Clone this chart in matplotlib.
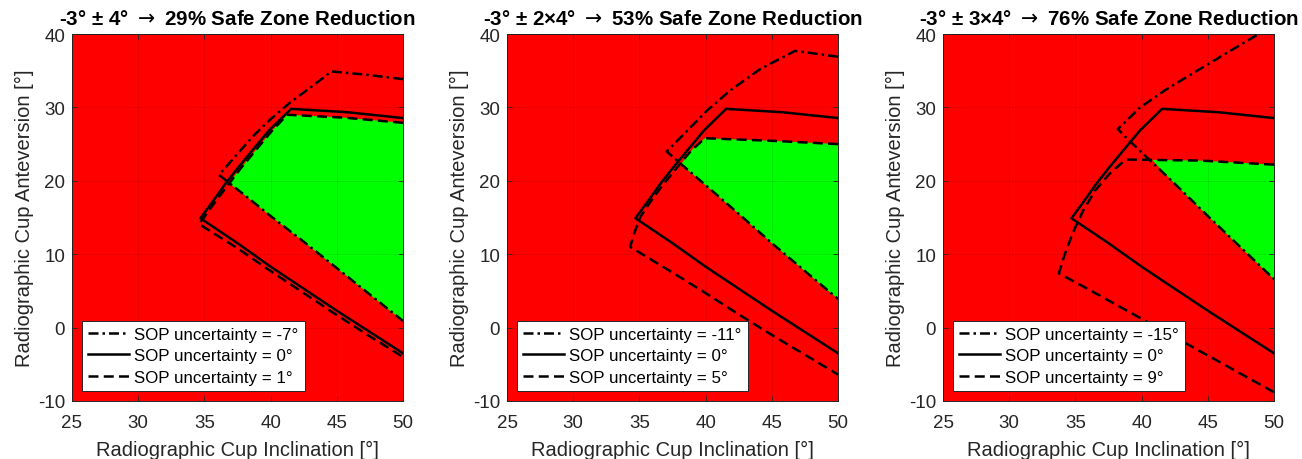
import matplotlib
matplotlib.use("Agg")
import matplotlib.pyplot as plt

plt.rcParams['font.family'] = ['Liberation Sans', 'DejaVu Sans']
plt.rcParams['axes.unicode_minus'] = False
plt.rcParams['mathtext.fontset'] = 'dejavusans'

# ---------------- data ----------------
TITLES = ["-3° ± 4° → 29% Safe Zone Reduction",
          "-3° ± 2×4° → 53% Safe Zone Reduction",
          "-3° ± 3×4° → 76% Safe Zone Reduction"]
X_TICKS = [25, 30, 35, 40, 45, 50]
Y_TICKS = [-10, 0, 10, 20, 30, 40]
XLABEL = "Radiographic Cup Inclination [°]"
YLABEL = "Radiographic Cup Anteversion [°]"

LOW_SOP = [-7, -11, -15]
MID_SOP = [0, 0, 0]
HIGH_SOP = [1, 5, 9]

# SOP uncertainty = 0 (same in all panels)
SOLID_X = [50, 45.75, 41.55, 39.9, 38.6, 37.5, 36.5, 35.6, 34.7,
           37.5, 40, 42.5, 45, 47.5, 50]
SOLID_Y = [28.55, 29.35, 29.8, 26.9, 24.1, 21.7, 19.4, 17.1, 14.9,
           11.5, 8.3, 5.3, 2.3, -0.6, -3.5]

# panel 1
P1_DD_X = [50, 47.25, 44.6, 43.0, 41.5, 40.0, 38.8, 37.7, 36.1,
           38, 40, 42.5, 45, 47.5, 50]
P1_DD_Y = [33.85, 34.45, 34.9, 32.7, 30.7, 28.4, 26.3, 24.1, 20.8,
           18.1, 15.2, 11.7, 8.1, 4.5, 0.9]
P1_DA_X = [50, 45.6, 41.25, 40.0, 38.8, 37.7, 36.6, 35.6, 34.6,
           37.5, 40, 42.5, 45, 47.5, 50]
P1_DA_Y = [27.9, 28.6, 29.0, 26.6, 24.0, 21.6, 19.0, 16.6, 14.1,
           10.8, 7.7, 4.7, 1.7, -1.2, -4.0]
P1_GREEN_X = [36.85, 37.7, 38.8, 40.0, 41.25, 45.6, 50, 50, 47.5, 45, 42.5, 40, 38]
P1_GREEN_Y = [19.7, 21.6, 24.0, 26.6, 29.0, 28.6, 27.9, 0.9, 4.5, 8.1, 11.7, 15.2, 18.1]

# panel 2
P2_DD_X = [50, 48.4, 46.75, 44.1, 41.85, 40.1, 38.6, 37.06,
           38.2, 40, 42.5, 45, 47.5, 50]
P2_DD_Y = [36.9, 37.3, 37.7, 35.2, 32.3, 29.55, 26.8, 24.0,
           22.2, 19.4, 15.5, 11.5, 7.7, 3.9]
P2_DA_X = [50, 45, 39.95, 38.9, 38.07, 37.3, 36.5, 35.7, 35.05, 34.6, 34.3,
           37.5, 40, 42.5, 45, 47.5, 50]
P2_DA_Y = [25.0, 25.45, 25.8, 24.1, 22.3, 20.6, 18.8, 16.8, 15.0, 12.8, 11.0,
           7.5, 4.7, 1.8, -1.0, -3.7, -6.4]
P2_GREEN_X = [38.15, 38.9, 39.95, 45, 50, 50, 47.5, 45, 42.5, 40]
P2_GREEN_Y = [22.25, 24.1, 25.8, 25.45, 25.0, 3.9, 7.7, 11.5, 15.5, 19.4]

# panel 3
P3_DD_X = [50, 48.84, 46.7, 44.2, 41.9, 39.9, 38.2,
           39.05, 40.8, 42.5, 45, 47.5, 50]
P3_DD_Y = [41.3, 40.0, 37.7, 35.0, 32.5, 30.0, 27.05,
           25.5, 22.5, 19.6, 15.2, 10.9, 6.6]
P3_DA_X = [50, 44.5, 38.8, 37.6, 36.5, 35.6, 34.8, 34.2, 33.75,
           36, 38.5, 41, 44, 47, 50]
P3_DA_Y = [22.2, 22.75, 22.9, 21.0, 18.7, 16.0, 12.9, 10.0, 7.4,
           5.2, 2.7, 0.2, -2.8, -5.8, -8.8]
P3_GREEN_X = [40.8, 44.5, 50, 50, 47.5, 45, 42.5]
P3_GREEN_Y = [22.85, 22.75, 22.2, 6.6, 10.9, 15.2, 19.6]

PANELS = [
    (P1_DD_X, P1_DD_Y, P1_DA_X, P1_DA_Y, P1_GREEN_X, P1_GREEN_Y),
    (P2_DD_X, P2_DD_Y, P2_DA_X, P2_DA_Y, P2_GREEN_X, P2_GREEN_Y),
    (P3_DD_X, P3_DD_Y, P3_DA_X, P3_DA_Y, P3_GREEN_X, P3_GREEN_Y),
]

# ---------------- drawing ----------------
W, H = 1302, 460
fig = plt.figure(figsize=(W / 100, H / 100), dpi=100)
lefts = [72, 507, 943]
ax_w, ax_bottom, ax_h = 331, 58, 367
LW = 1.8

for i, (ddx, ddy, dax, day, gx, gy) in enumerate(PANELS):
    ax = fig.add_axes([lefts[i] / W, ax_bottom / H, ax_w / W, ax_h / H])
    ax.set_facecolor('#ff0000')
    ax.fill(gx, gy, color='#00ff00', lw=0, zorder=1)
    ax.grid(True, color='k', alpha=0.1, lw=0.6, zorder=2)
    ax.set_axisbelow(False)
    ax.plot(ddx, ddy, color='k', lw=LW, dashes=(4.0, 1.6, 1.0, 1.6),
            zorder=3, label=f"SOP uncertainty = {LOW_SOP[i]}°")
    ax.plot(SOLID_X, SOLID_Y, color='k', lw=LW, zorder=3,
            label=f"SOP uncertainty = {MID_SOP[i]}°")
    ax.plot(dax, day, color='k', lw=LW, dashes=(4.0, 2.1),
            zorder=3, label=f"SOP uncertainty = {HIGH_SOP[i]}°")
    ax.set_xlim(25, 50)
    ax.set_ylim(-10, 40)
    ax.set_xticks(X_TICKS)
    ax.set_yticks(Y_TICKS)
    ax.tick_params(direction='in', top=True, right=True, length=3.5, width=0.6,
                   labelsize=13.5, colors='#262626')
    ax.tick_params(axis='x', pad=9.5)
    ax.tick_params(axis='y', pad=5)
    for sp in ax.spines.values():
        sp.set_color('#262626')
        sp.set_linewidth(0.7)
    ax.set_xlabel(XLABEL, fontsize=14.5, color='#262626', labelpad=6)
    ax.set_ylabel(YLABEL, fontsize=14.5, color='#262626', labelpad=2.5)
    ax.set_title(TITLES[i].replace("→", r"$\rightarrow$"), fontsize=14.8,
                 fontweight='bold', pad=7)
    leg = ax.legend(loc='lower left', fontsize=12.2, borderaxespad=0.6,
                    handlelength=2.4, handletextpad=0.3, labelspacing=0.37,
                    borderpad=0.37, fancybox=False, framealpha=1)
    leg.get_frame().set_edgecolor('#262626')
    leg.get_frame().set_linewidth(0.7)
    leg.set_zorder(5)

fig.savefig('out.png', dpi=100)
